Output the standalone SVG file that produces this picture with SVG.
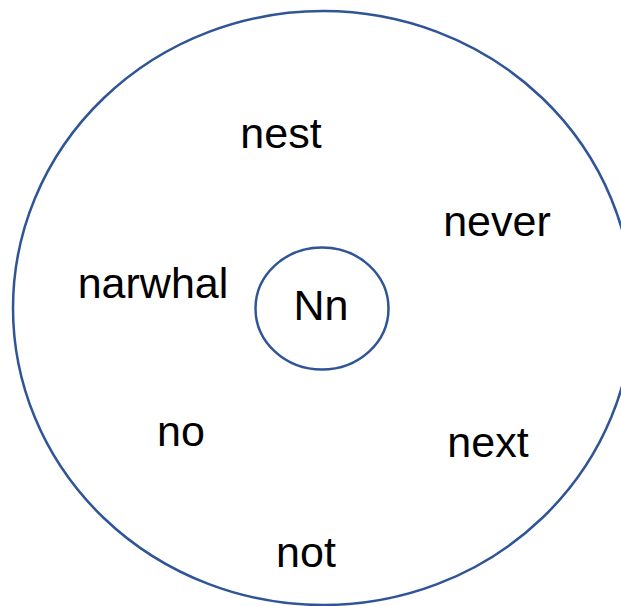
<svg xmlns="http://www.w3.org/2000/svg" width="621" height="606" viewBox="0 0 621 606">
<style>
.ring{fill:none;stroke:#2F5597;stroke-width:2.5}
.t{font-family:"Liberation Sans",Arial,sans-serif;font-size:43px;fill:#000;text-anchor:middle}
</style>
<rect width="621" height="606" fill="#fff"/>
<g id="outer"><ellipse class="ring" cx="323" cy="308" rx="310" ry="297"/></g>
<g id="center"><ellipse class="ring" cx="322" cy="308.5" rx="66.5" ry="61"/><text class="t" x="321" y="320">Nn</text></g>
<g id="nest"><text class="t" x="281" y="148">nest</text></g>
<g id="never"><text class="t" x="497" y="236">never</text></g>
<g id="narwhal"><text class="t" x="153" y="298">narwhal</text></g>
<g id="no"><text class="t" x="181" y="446">no</text></g>
<g id="next"><text class="t" x="488" y="457">next</text></g>
<g id="not"><text class="t" x="306" y="567">not</text></g>
<g id="connectors"/>
</svg>
